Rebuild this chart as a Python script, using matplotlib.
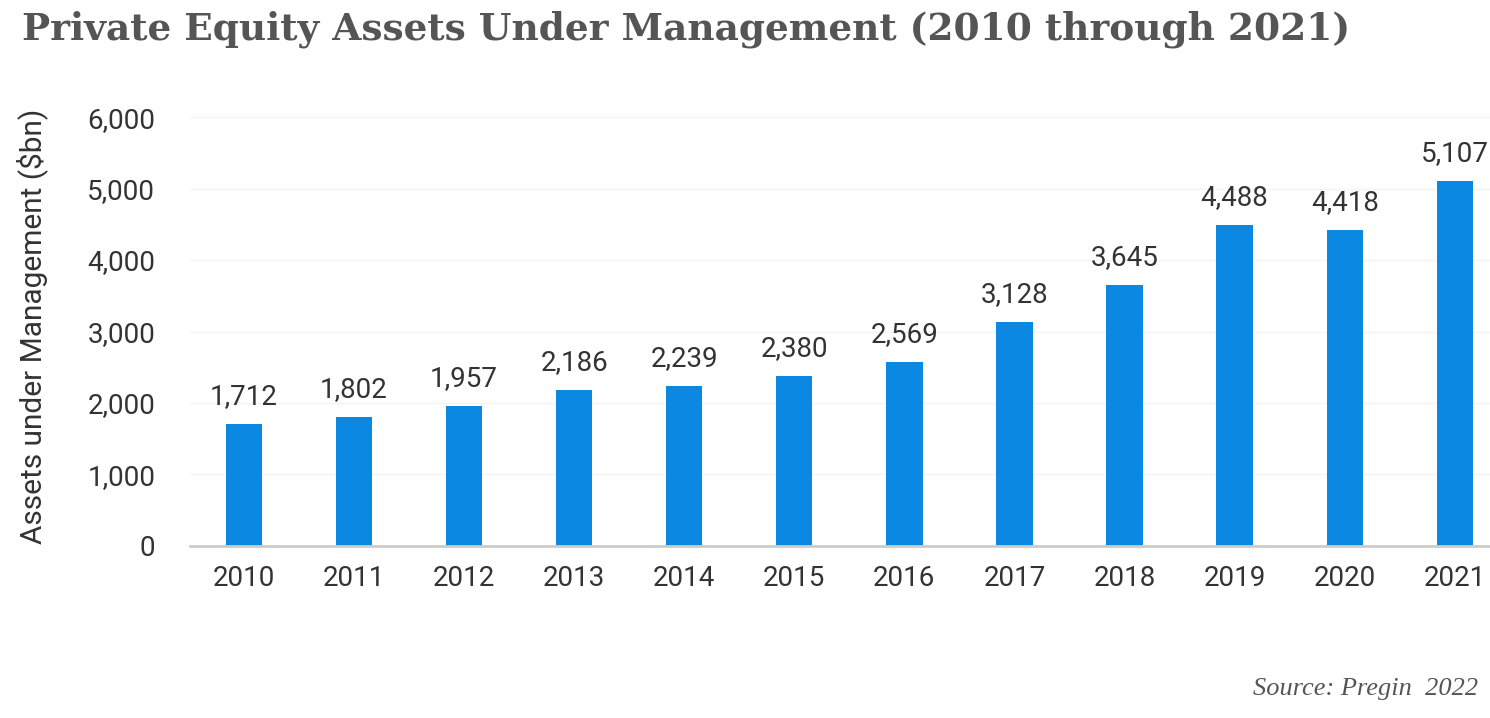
import matplotlib.pyplot as plt

years = ["2010", "2011", "2012", "2013", "2014", "2015", "2016", "2017", "2018", "2019", "2020", "2021"]
aum = [1712, 1802, 1957, 2186, 2239, 2380, 2569, 3128, 3645, 4488, 4418, 5107]
y_ticks = [0, 1000, 2000, 3000, 4000, 5000, 6000]

bar_color = "#0a88e2"
text_color = "#333333"

fig = plt.figure(figsize=(14.9, 7.18), dpi=100)
ax = fig.add_axes([0.1275, 0.2396, 0.8725, 0.5974])

x = list(range(len(years)))
bars = ax.bar(x, aum, width=0.33, color=bar_color, zorder=3)

for xi, v in zip(x, aum):
    ax.annotate(f"{v:,}", (xi, v), xytext=(0, 10), textcoords="offset points",
                ha="center", va="bottom", fontsize=20, color=text_color,
                family="Roboto")

ax.set_xlim(-0.49, 11.32)
ax.set_ylim(0, 6000)
ax.set_xticks(x)
ax.set_xticklabels(years, fontsize=20, color=text_color, family="Roboto")
ax.set_yticks(y_ticks)
ax.set_yticklabels([f"{t:,}" for t in y_ticks], fontsize=20, color=text_color, family="Roboto")
ax.tick_params(length=0)
ax.tick_params(axis="y", pad=25)
ax.tick_params(axis="x", pad=14)

ax.grid(axis="y", color="#f4f4f4", linewidth=1, zorder=0)
for side in ["top", "right", "left"]:
    ax.spines[side].set_visible(False)
ax.spines["bottom"].set_color("#cccccc")
ax.spines["bottom"].set_linewidth(2)
ax.spines["bottom"].set_zorder(4)

fig.text(0.0215, 0.546, "Assets under Management ($bn)", rotation=90,
         ha="center", va="center", fontsize=21.5, color=text_color, family="Roboto")

fig.text(0.015, 0.985, "Private Equity Assets Under Management (2010 through 2021)",
         ha="left", va="top", fontsize=27, fontweight="bold", color="#555555",
         family="DejaVu Serif")

fig.text(0.992, 0.04, "Source: Pregin  2022", ha="right", va="center",
         fontsize=19, style="italic", color="#555555", family="Liberation Serif")

fig.savefig("out.png", dpi=100, facecolor="white")
